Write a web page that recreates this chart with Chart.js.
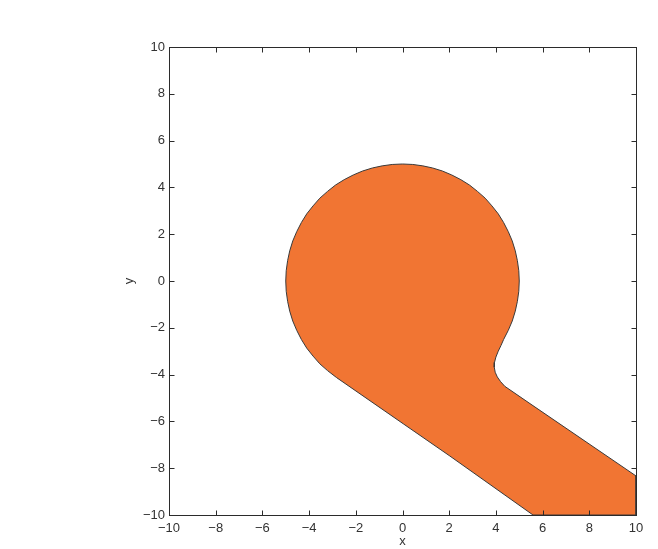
<!DOCTYPE html>
<html>
<head>
<meta charset="utf-8">
<script src="https://cdn.jsdelivr.net/npm/chart.js@4/dist/chart.umd.min.js"></script>
<style>
  html, body { margin: 0; background: #fff; }
</style>
</head>
<body>
<canvas id="chart" width="658" height="549"></canvas>
<script>
// outline of the filled region (data units)
const outlineX = [
  5.59, 2.03, 0.03, -2.82,
  -3.21, -3.54, -3.83, -4.10, -4.33, -4.53, -4.70, -4.83, -4.92, -4.98, -5.00,
  -4.98, -4.92, -4.83, -4.70, -4.53, -4.33, -4.10, -3.83, -3.54, -3.21,
  -2.87, -2.50, -2.11, -1.71, -1.29, -0.87, -0.44, 0.00,
  0.44, 0.87, 1.29, 1.71, 2.11, 2.50, 2.87, 3.21, 3.54, 3.83, 4.10,
  4.33, 4.53, 4.70, 4.83, 4.92, 4.98, 5.00,
  4.98, 4.92, 4.83, 4.70, 4.53, 4.33,
  4.22, 4.10, 4.00, 3.94, 3.93, 3.97, 4.06, 4.20, 4.38,
  5.46, 10.00, 10.00, 5.59
];
const outlineY = [
  -10.00, -7.48, -6.10, -4.13,
  -3.83, -3.54, -3.21, -2.87, -2.50, -2.11, -1.71, -1.29, -0.87, -0.44, 0.00,
  0.44, 0.87, 1.29, 1.71, 2.11, 2.50, 2.87, 3.21, 3.54, 3.83,
  4.10, 4.33, 4.53, 4.70, 4.83, 4.92, 4.98, 5.00,
  4.98, 4.92, 4.83, 4.70, 4.53, 4.33, 4.10, 3.83, 3.54, 3.21, 2.87,
  2.50, 2.11, 1.71, 1.29, 0.87, 0.44, 0.00,
  -0.44, -0.87, -1.29, -1.71, -2.11, -2.50,
  -2.75, -3.00, -3.25, -3.48, -3.68, -3.90, -4.10, -4.30, -4.50,
  -5.24, -8.33, -10.00, -10.00
];
const tickValues = [-10, -8, -6, -4, -2, 0, 2, 4, 6, 8, 10];
const xLabel = "x";
const yLabel = "y";

const fontSpec = { family: "'Liberation Sans', Arial, sans-serif", size: 13 };
const minus = (v) => String(v).replace("-", "\u2212");

// matlab style box with inward ticks on all four sides
const frame = {
  id: "frame",
  afterDraw(chart) {
    const { ctx, chartArea: a, scales } = chart;
    const L = Math.round(a.left) + 0.5, R = Math.round(a.right) + 0.5;
    const T = Math.round(a.top) + 0.5, B = Math.round(a.bottom) + 0.5;
    ctx.save();
    ctx.strokeStyle = "#2b2b2b";
    ctx.lineWidth = 1;
    ctx.beginPath();
    tickValues.forEach((v) => {
      const px = Math.round(scales.x.getPixelForValue(v)) + 0.5;
      ctx.moveTo(px, B); ctx.lineTo(px, B - 5);
      ctx.moveTo(px, T); ctx.lineTo(px, T + 5);
      const py = Math.round(scales.y.getPixelForValue(v)) + 0.5;
      ctx.moveTo(L, py); ctx.lineTo(L + 5, py);
      ctx.moveTo(R, py); ctx.lineTo(R - 5, py);
    });
    ctx.stroke();
    ctx.strokeRect(L, T, R - L, B - T);
    ctx.restore();
  },
};

new Chart(document.getElementById("chart"), {
  type: "scatter",
  data: {
    datasets: [{
      data: outlineX.map((x, i) => ({ x: x, y: outlineY[i] })),
      showLine: true,
      fill: "shape",
      backgroundColor: "rgb(241, 117, 51)",
      borderColor: "#3a3a3a",
      borderWidth: 1,
      pointRadius: 0,
      tension: 0,
    }],
  },
  options: {
    responsive: false,
    animation: false,
    events: [],
    layout: { padding: { top: 47, right: 22, bottom: 0, left: 0 } },
    plugins: {
      legend: { display: false },
      tooltip: { enabled: false },
    },
    scales: {
      x: {
        type: "linear",
        min: -10,
        max: 10,
        afterBuildTicks: (s) => { s.ticks = tickValues.map((v) => ({ value: v })); },
        afterFit: (s) => { s.height = 34; },
        grid: { display: false, drawTicks: false },
        border: { display: false },
        ticks: { padding: 6, color: "#333", font: fontSpec, maxRotation: 0, callback: (v) => minus(v) },
        title: { display: true, text: xLabel, color: "#333", font: fontSpec, padding: 0 },
      },
      y: {
        type: "linear",
        min: -10,
        max: 10,
        afterBuildTicks: (s) => { s.ticks = tickValues.map((v) => ({ value: v })); },
        afterFit: (s) => { s.width = 169; },
        grid: { display: false, drawTicks: false },
        border: { display: false },
        ticks: { padding: 4, color: "#333", font: fontSpec, callback: (v) => minus(v) },
        title: { display: true, text: yLabel, color: "#333", font: fontSpec, padding: { top: 122, bottom: 0 } },
      },
    },
  },
  plugins: [frame],
});
</script>
</body>
</html>
